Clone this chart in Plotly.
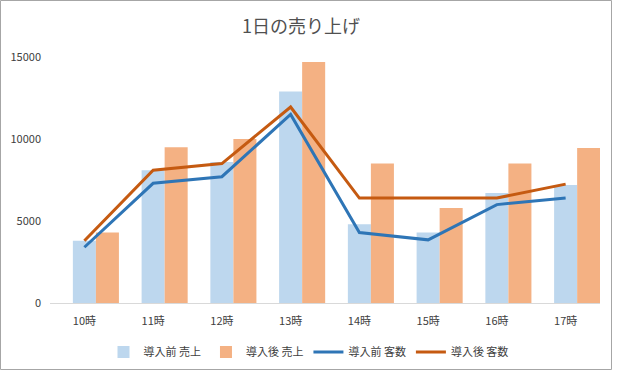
import plotly.graph_objects as go

categories = ["10時", "11時", "12時", "13時", "14時", "15時", "16時", "17時"]
sales_before = [3800, 8100, 8600, 12900, 4800, 4300, 6700, 7200]
sales_after = [4300, 9500, 10000, 14700, 8500, 5800, 8500, 9450]
customers_before = [3400, 7300, 7700, 11500, 4300, 3850, 6000, 6400]
customers_after = [3800, 8100, 8500, 11950, 6400, 6400, 6400, 7250]
series_names = ["導入前 売上", "導入後 売上", "導入前 客数", "導入後 客数"]
y_ticks = [0, 5000, 10000, 15000]
y_tick_labels = ["0", "5000", "10000", "15000"]
title_text = "1日の売り上げ"

FONT = "Noto Sans CJK JP, Noto Sans, sans-serif"
TXT = "#404040"
TITLE = "#505050"
W = 0.335

fig = go.Figure()
fig.add_trace(go.Bar(x=categories, y=sales_before, name=series_names[0],
                     marker=dict(color="#BDD7EE", line=dict(width=0)),
                     width=W, offset=-W / 2))
fig.add_trace(go.Bar(x=categories, y=sales_after, name=series_names[1],
                     marker=dict(color="#F4B183", line=dict(width=0)),
                     width=W, offset=W / 2))
fig.add_trace(go.Scatter(x=categories, y=customers_before, name=series_names[2],
                         mode="lines", line=dict(color="#2E75B6", width=3)))
fig.add_trace(go.Scatter(x=categories, y=customers_after, name=series_names[3],
                         mode="lines", line=dict(color="#C55A11", width=3)))

L, R, T, B = 50, 20, 57, 77
PW, PH = 620 - L - R, 380 - T - B


def px_x(p):
    return (p - L) / PW


def px_y(p):
    return (380 - B - p) / PH


fig.update_layout(
    width=620, height=380,
    margin=dict(l=L, r=R, t=T, b=B, autoexpand=False),
    paper_bgcolor="white", plot_bgcolor="white",
    barmode="overlay",
    showlegend=True,
    font=dict(family=FONT, size=11, color=TXT),
    title=dict(text=title_text, x=301 / 620, xanchor="center",
               y=1 - 27 / 380, yanchor="middle",
               font=dict(family=FONT, size=18, color=TITLE)),
    legend=dict(orientation="h", x=0.47, xanchor="center", y=px_y(352), yanchor="middle",
                font=dict(family=FONT, size=11, color=TXT), itemwidth=30,
                traceorder="normal", bgcolor="rgba(0,0,0,0)"),
    xaxis=dict(type="category", range=[-0.5, 7.5], showgrid=False, showline=True,
               linecolor="#D9D9D9", linewidth=1, ticks="", ticklabelstandoff=8,
               tickfont=dict(family=FONT, size=11, color=TXT), fixedrange=True),
    yaxis=dict(range=[0, 15000], tickvals=y_ticks, ticktext=y_tick_labels,
               showgrid=False, showline=False,
               zeroline=False, ticks="", ticklabelstandoff=8,
               tickfont=dict(family=FONT, size=11, color=TXT), fixedrange=True),
    shapes=[dict(type="rect", xref="paper", yref="paper",
                 x0=px_x(0.5), x1=px_x(611.5), y0=px_y(369.5), y1=px_y(0.5),
                 line=dict(color="#A6A6A6", width=1), layer="below")],
)

fig.write_html("out.html", config={"displayModeBar": False},
               post_script="document.body.style.margin='0';document.body.style.padding='0';")
